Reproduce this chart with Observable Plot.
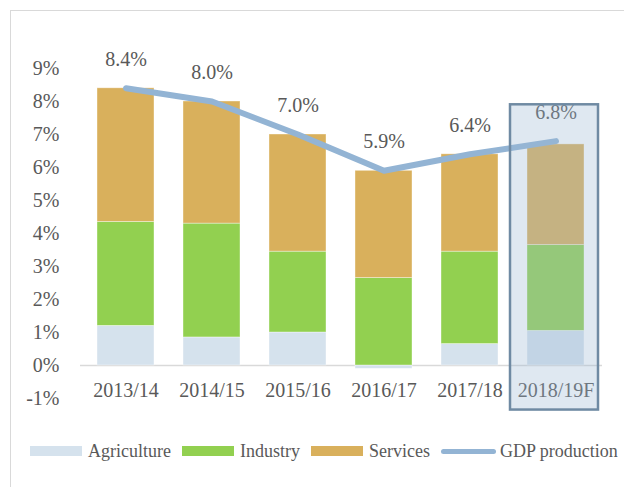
<!DOCTYPE html>
<html>
<head>
<meta charset="utf-8">
<script src="https://cdn.jsdelivr.net/npm/d3@7"></script>
<script src="https://cdn.jsdelivr.net/npm/@observablehq/plot@0.6"></script>
<style>
  html, body { margin: 0; padding: 0; background: #fff; }
  #wrap { position: relative; width: 624px; height: 487px; overflow: hidden; font-family: "Liberation Serif", "Times New Roman", serif; }
  #border { position: absolute; left: 10px; top: 10px; width: 700px; height: 600px; border-left: 1.5px solid #d9d9d9; border-top: 1.5px solid #d9d9d9; }
  #chart { position: absolute; left: 0; top: 0; }
  #legend { position: absolute; left: 30px; top: 441px; height: 20px; display: flex; align-items: center; font-size: 18px; color: #595959; white-space: nowrap; }
  .item { display: flex; align-items: center; margin-right: 11px; }
  .sw { width: 52px; height: 10px; margin-right: 6px; }
  .ln { width: 55px; height: 5px; border-radius: 3px; margin-right: 4px; }
</style>
</head>
<body>
<div id="wrap">
  <div id="border"></div>
  <div id="chart"></div>
  <div id="legend"></div>
</div>
<script>
const categories = ["2013/14", "2014/15", "2015/16", "2016/17", "2017/18", "2018/19F"];
const sectors = ["Agriculture", "Industry", "Services"];
const agriculture = [1.2, 0.85, 1.0, -0.1, 0.65, 1.05];
const industry = [3.15, 3.45, 2.45, 2.65, 2.8, 2.6];
const services = [4.05, 3.7, 3.55, 3.25, 2.95, 3.05];
const gdp = [8.4, 8.0, 7.0, 5.9, 6.4, 6.8];
const gdpLabels = ["8.4%", "8.0%", "7.0%", "5.9%", "6.4%", "6.8%"];
const yTicks = [-1, 0, 1, 2, 3, 4, 5, 6, 7, 8, 9];
const forecast = [{cat: "2018/19F", lo: -1.35, hi: 7.9}];

const sectorColors = ["#d5e2ed", "#92d050", "#d9b05c"];
const lineColor = "#93b4d4";
const textColor = "#595959";
const font = '"Liberation Serif", "Times New Roman", serif';

const series = [agriculture, industry, services];
const long = [];
categories.forEach((c, i) => sectors.forEach((s, j) => long.push({cat: c, sector: s, value: series[j][i]})));
const rows = categories.map((c, i) => ({cat: c, gdp: gdp[i], label: gdpLabels[i]}));

const chart = Plot.plot({
  width: 624,
  height: 420,
  marginLeft: 80,
  marginRight: 22,
  marginTop: 68,
  marginBottom: 22,
  style: {fontFamily: font, fontSize: "20px", color: textColor, background: "transparent", overflow: "visible"},
  x: {domain: categories, paddingInner: 0.333, paddingOuter: 0.1667, axis: null},
  y: {domain: [-1, 9], axis: null},
  color: {domain: sectors, range: sectorColors},
  marks: [
    Plot.axisY({ticks: yTicks, tickFormat: d => d + "%", tickSize: 0, tickPadding: 21, fontSize: 20, fill: textColor}),
    Plot.ruleY([0], {stroke: "#d9d9d9", strokeWidth: 1.5}),
    Plot.barY(long, {x: "cat", y: "value", fill: "sector", order: sectors, stroke: "#ffffff", strokeOpacity: 0.5, strokeWidth: 0.75}),
    Plot.line(rows, {x: "cat", y: "gdp", stroke: lineColor, strokeWidth: 6, strokeLinecap: "round", strokeLinejoin: "round"}),
    Plot.text(rows, {x: "cat", y: "gdp", text: "label", dy: -29, fill: textColor, fontSize: 20}),
    Plot.text(categories, {x: d => d, y: () => 0, dy: 25, text: d => d, fill: textColor, fontSize: 20}),
    Plot.barY(forecast, {x: "cat", y1: "lo", y2: "hi", fill: "#9db9d3", fillOpacity: 0.32, stroke: "#6f8aa3", strokeWidth: 2.5, insetLeft: -17, insetRight: -14})
  ]
});
document.getElementById("chart").appendChild(chart);

const legend = document.getElementById("legend");
sectors.forEach((s, i) => {
  const it = document.createElement("div");
  it.className = "item";
  it.innerHTML = `<div class="sw" style="background:${sectorColors[i]}"></div><span>${s}</span>`;
  legend.appendChild(it);
});
const gi = document.createElement("div");
gi.className = "item";
gi.innerHTML = `<div class="ln" style="background:${lineColor}"></div><span>GDP production</span>`;
legend.appendChild(gi);
</script>
</body>
</html>
